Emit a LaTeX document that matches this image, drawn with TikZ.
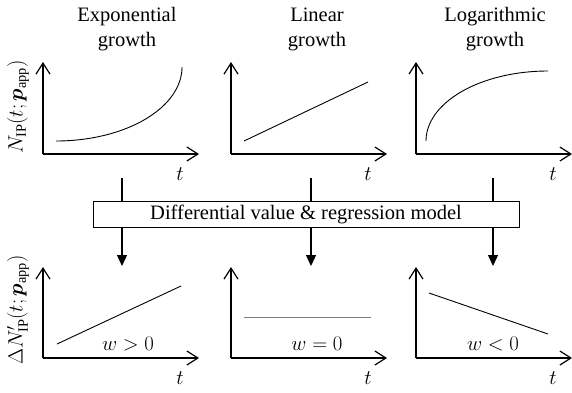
\documentclass[tikz,border=0pt]{standalone}
\usepackage{amsmath}
\usepackage{bm}
\usepackage{fontspec}
\setmainfont{Liberation Serif}
\usetikzlibrary{arrows.meta}
\begin{document}
\begin{tikzpicture}[x=1pt,y=-1pt,
  font=\fontsize{20.5}{25}\selectfont,
  axis/.style={line width=1.3pt,-{Straight Barb[length=11pt,width=14pt,line width=1.2pt]}},
  curve/.style={line width=0.9pt},
  flow/.style={line width=1.2pt},
  flowtip/.style={line width=1.2pt,-{Triangle[length=11pt,width=10pt]}},
  lbl/.style={align=center,inner sep=0pt}]
\useasboundingbox (0,0) rectangle (572,392);
% titles
\node[lbl] (t1) at (127,29.5) {Exponential\\growth};
\node[lbl] (t2) at (317,29.5) {Linear\\growth};
\node[lbl] (t3) at (495,29.5) {Logarithmic\\growth};
% y labels
\node[rotate=90,inner sep=0pt] (yl1) at (18,107) {$N_{\mathrm{IP}}(t;\bm{p}_{\mathrm{app}})$};
\node[rotate=90,inner sep=0pt] (yl2) at (18,310) {$\Delta N'_{\mathrm{IP}}(t;\bm{p}_{\mathrm{app}})$};
% top axes
\foreach \ox/\nm in {43/a,231/b,416/c}{
  \coordinate (o\nm) at (\ox,154);
  \coordinate (y\nm) at (\ox,62);
  \coordinate (x\nm) at (\ox+156,154);
  \draw[axis] (o\nm) -- (y\nm);
  \draw[axis] (o\nm) -- (x\nm);
  \node[inner sep=0pt] (tt\nm) at (\ox+137,174) {$t$};
}
% bottom axes
\foreach \ox/\nm in {43/d,231/e,416/f}{
  \coordinate (o\nm) at (\ox,358);
  \coordinate (y\nm) at (\ox,267);
  \coordinate (x\nm) at (\ox+156,358);
  \draw[axis] (o\nm) -- (y\nm);
  \draw[axis] (o\nm) -- (x\nm);
  \node[inner sep=0pt] (tt\nm) at (\ox+137,378) {$t$};
}
% top curves
\draw[curve] plot[domain=90:0,samples=90,smooth] ({56+126*cos(\x)},{67+74*sin(\x)});
\draw[curve] (244,141) -- (368,82);
\draw[curve] plot[domain=180:90,samples=90,smooth] ({548+122*cos(\x)},{141-70*sin(\x)});
% bottom curves
\draw[curve] (57,344) -- (181,286);
\draw[curve,gray] (244,317) -- (371,317);
\draw[curve] (429,293) -- (548,334);
\node[inner sep=0pt] (w1) at (128,344) {$w>0$};
\node[inner sep=0pt] (w2) at (317,344) {$w=0$};
\node[inner sep=0pt] (w3) at (493,344) {$w<0$};
% box
\node[draw,line width=1pt,minimum width=426pt,minimum height=26pt,inner sep=0pt] (box) at (306,214) {Differential value \& regression model};
% flow arrows
\foreach \fx/\nm in {122/a,311/b,493/c}{
  \coordinate (s\nm) at (\fx,178);
  \coordinate (e\nm) at (\fx,266);
  \draw[flow] (s\nm) -- (s\nm |- box.north);
  \draw[flowtip] (s\nm |- box.south) -- (e\nm);
}
\end{tikzpicture}
\end{document}
